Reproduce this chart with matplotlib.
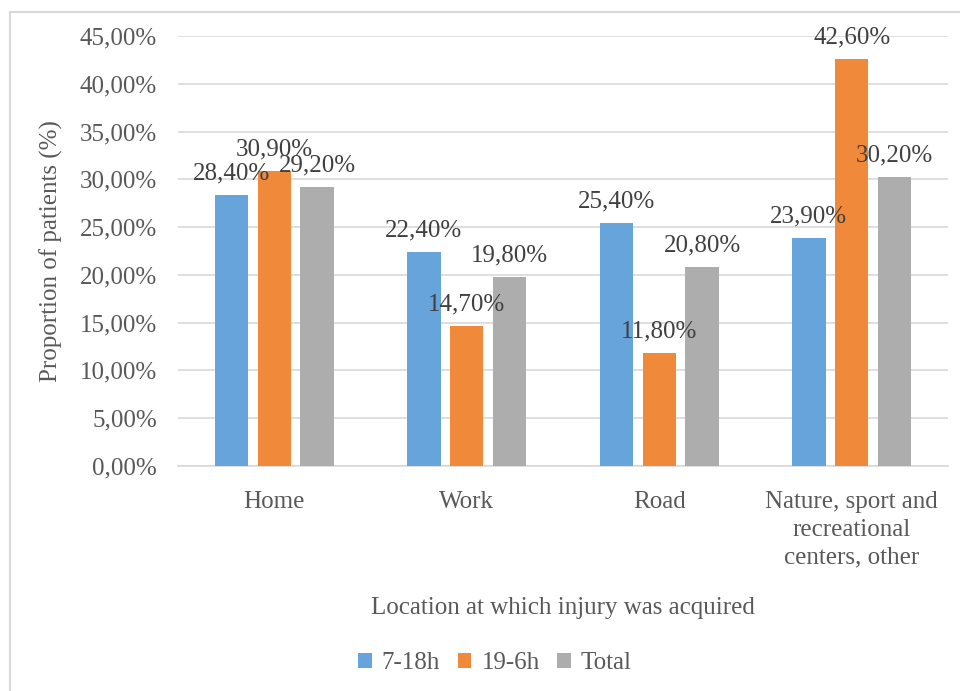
import numpy as np
import matplotlib.pyplot as plt
from matplotlib.ticker import FuncFormatter, MultipleLocator
from matplotlib.lines import Line2D

categories = ["Home", "Work", "Road", "Nature, sport and\nrecreational\ncenters, other"]
series_names = ["7-18h", "19-6h", "Total"]
day = [28.4, 22.4, 25.4, 23.9]
night = [30.9, 14.7, 11.8, 42.6]
total = [29.2, 19.8, 20.8, 30.2]

colors = ["#66A4DB", "#F0893A", "#ADADAD"]
text_col = "#595959"

plt.rcParams["font.family"] = ["Liberation Serif", "DejaVu Serif"]
FS = 18

fig = plt.figure(figsize=(9.6, 6.91), dpi=100)
ax = fig.add_axes([178 / 960, 1 - 466 / 691, 770 / 960, 430 / 691])

x = np.arange(len(categories))
width = 0.174
step = 0.223
for i, (vals, name) in enumerate(zip([day, night, total], series_names)):
    pos = x + (i - 1) * step
    bars = ax.bar(pos, vals, width, color=colors[i], label=name, zorder=3)
    for b, v in zip(bars, vals):
        ax.annotate(f"{v:.2f}%".replace(".", ","),
                    (b.get_x() + b.get_width() / 2, v),
                    xytext=(0, 15.5), textcoords="offset points",
                    ha="center", va="center", fontsize=FS, color="#404040",
                    zorder=4)

ax.set_xlim(-0.5, len(categories) - 0.5)
ax.set_ylim(0, 45)
ax.yaxis.set_major_locator(MultipleLocator(5))
ax.yaxis.set_major_formatter(FuncFormatter(lambda v, p: f"{v:.2f}%".replace(".", ",")))
ax.grid(axis="y", color="#D9D9D9", linewidth=1.2, zorder=0)
ax.set_axisbelow(True)
for s in ["top", "right", "left"]:
    ax.spines[s].set_visible(False)
ax.spines["bottom"].set_color("#D9D9D9")
ax.spines["bottom"].set_linewidth(1.2)

ax.set_xticks(x)
ax.set_xticklabels(categories, fontsize=FS, color=text_col, linespacing=1.35)
ax.tick_params(axis="x", length=0, pad=18)
ax.tick_params(axis="y", length=0, pad=15, labelsize=FS, labelcolor=text_col)

ax.set_ylabel("Proportion of patients (%)", fontsize=FS, color=text_col, labelpad=12)
ax.set_xlabel("Location at which injury was acquired", fontsize=FS, color=text_col, labelpad=20)

fig.legend(loc="center", bbox_to_anchor=(495 / 960, 1 - 663 / 691), ncol=3,
           frameon=False, fontsize=FS, handlelength=0.55, handleheight=0.55,
           handletextpad=0.4, columnspacing=0.7, labelcolor=text_col)

# chart border (top and left edges visible)
fig.add_artist(Line2D([10 / 960, 10 / 960], [0, 1 - 12 / 691], transform=fig.transFigure,
                      color="#D9D9D9", linewidth=1.5))
fig.add_artist(Line2D([10 / 960, 1], [1 - 12 / 691, 1 - 12 / 691], transform=fig.transFigure,
                      color="#D9D9D9", linewidth=1.5))

fig.savefig("out.png", dpi=100)
